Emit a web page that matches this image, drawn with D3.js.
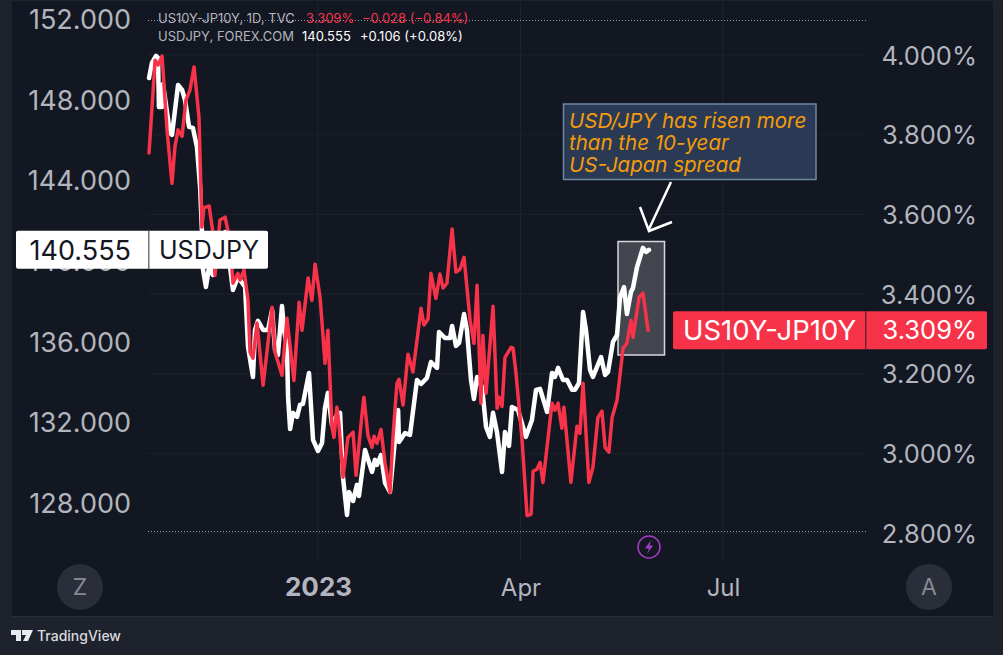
<!DOCTYPE html>
<html>
<head>
<meta charset="utf-8">
<script src="https://cdn.jsdelivr.net/npm/d3@7"></script>
<style>
  html, body { margin: 0; padding: 0; background: #1e222d; overflow: hidden; }
  svg { display: block; }
  text { font-family: Inter, "Noto Sans", sans-serif; }
  .axis .domain { display: none; }
  .axis text { fill: #b2b5be; }
</style>
</head>
<body>
<div id="chart"></div>
<script>
// days are counted from 2023-01-01
const usdjpyDays = [-75.1,-73.8,-72,-71.1,-70.7,-69.3,-68.9,-65.8,-64.9,-62.2,-60.4,-59.1,-57.3,-55.6,-53.8,-52.4,-51.6,-51.1,-49.8,-48.4,-46.7,-44,-41.3,-39.1,-37.8,-35.6,-32.4,-31.1,-28.9,-28,-26.7,-24.4,-22.2,-20.4,-19.1,-17.8,-16,-15.1,-13.8,-13.3,-12.4,-11.1,-9.3,-8,-6.7,-4,-2.2,0,1.8,3.1,4.4,6.2,8.4,9.8,11.1,12.9,13.8,15.6,17.3,18.2,20.9,24,25.3,26.2,28,29.8,32,34.2,35.6,36,38.7,40.9,44,45.8,48.4,50.2,52.9,53.8,56.4,58.7,59.6,61.3,62.7,64.9,66.2,68,69.3,70.7,72.9,74.7,76.4,77.8,79.6,81.8,83.1,84.9,86.2,88.9,92.4,95.1,96.9,98.7,101.8,104,105.3,106.7,108.9,110.7,112.9,114.2,116,117.8,119.1,120.9,122.2,125.8,127.6,128.9,131.1,132.9,134.2,136,137.3,139.1,140,141.8,144.4,145.8,147.1];
const usdjpyValues = [149.07,149.82,150.17,150.07,147.64,147.64,148.78,146.35,146.25,148.73,148.48,147.98,146.65,146.6,145.65,143.67,141.54,139.56,138.71,139.7,139.31,140.3,141.44,139.7,138.56,139.21,138.71,135.74,134.25,136.58,137.03,136.58,136.58,137.57,135.59,135.34,137.77,136.58,135.74,133.26,131.67,132.47,132.27,132.86,132.91,134.45,131.13,130.58,130.98,132.71,133.46,131.87,132.37,132.47,129.29,127.41,128.55,128.1,128.9,128.35,130.63,129.54,130.14,129.89,130.38,129,128.55,131.13,132.61,131.03,131.47,131.38,134.1,133.9,134.2,134.99,134.7,136.48,136.18,136.18,136.78,135.79,135.94,137.37,136.58,134.1,133.16,134.25,133.75,131.77,131.28,132.47,131.47,129.54,131.52,130.83,132.76,132.61,131.28,132.12,133.61,133.66,132.52,134.45,134.25,134.7,134.1,134.1,133.61,133.61,133.95,137.47,136.58,134.6,134.25,135.24,134.35,134.5,135.99,136.33,138.17,138.71,137.37,138.46,138.66,139.7,140.65,140.45,140.555];

const spreadDays = [-75.1,-72.4,-71.1,-69.3,-67.1,-64.9,-63.6,-62.2,-60.4,-58.7,-56.9,-55.1,-52.9,-51.6,-50.7,-48.4,-46.7,-45.8,-43.6,-41.3,-39.1,-37.8,-35.6,-34.7,-32.9,-31.1,-30.2,-28.9,-27.1,-24.4,-20.4,-19.1,-16,-13.8,-10.7,-8.4,-7.1,-4.4,-2.7,-1.3,0.9,1.8,3.1,4.4,6.2,7.1,8.4,9.3,11.1,13.3,15.6,16.9,19.6,20.4,22.2,24,24.9,26.2,28,29.8,32,33.3,35.1,36,37.8,40,42.2,45.8,47.1,48.9,50.2,52.4,54.2,55.6,57.3,59.6,61.3,63.1,64.9,67.6,69.3,70.7,72.4,73.3,74.7,77.8,79.6,80.4,81.8,83.1,85.8,86.7,88,90.7,92.9,94.7,95.6,97.3,98.7,100,104,105.3,106.7,108.4,109.3,112.4,115.1,116.4,117.8,120.4,122.2,124.4,126.2,127.6,129.3,130.7,132.9,135.6,137.3,139.1,140,142.7,144.4,146.7];
const spreadValues = [3.754,3.987,3.975,3.997,3.812,3.678,3.769,3.812,3.796,3.887,3.912,3.97,3.844,3.568,3.616,3.621,3.555,3.447,3.585,3.593,3.535,3.427,3.452,3.435,3.46,3.384,3.254,3.239,3.327,3.171,3.367,3.254,3.196,3.339,3.183,3.379,3.309,3.44,3.384,3.475,3.392,3.327,3.226,3.309,3.065,3.04,3.116,3.075,2.94,3.04,3.053,2.945,3.101,3.141,3.045,3.015,3.043,3.025,3.06,2.975,2.902,3.04,3.176,3.186,3.121,3.249,3.204,3.364,3.322,3.337,3.452,3.389,3.45,3.415,3.427,3.563,3.455,3.462,3.492,3.334,3.276,3.422,3.126,3.296,3.151,3.369,3.113,3.141,3.118,3.241,3.266,3.264,3.201,3.033,2.844,2.847,2.955,2.96,2.977,2.927,3.126,3.108,3.126,3.063,3.116,2.927,3.068,3.05,3.176,2.927,2.965,3.09,3.106,3.015,3.003,3.09,3.133,3.264,3.276,3.334,3.291,3.392,3.402,3.309];

const usdjpyTicks = [128, 132, 136, 140, 144, 148, 152];
const spreadTicks = [2.8, 3.0, 3.2, 3.4, 3.6, 3.8, 4.0];
const timeTicks = [0, 90, 180];
const timeLabels = ["2023", "Apr", "Jul"];
const noteLines = ["USD/JPY has risen more", "than the 10-year", "US-Japan spread"];

const WHITE = "#ffffff", RED = "#f7334a", GREY = "#b2b5be";
const width = 1003, height = 655;

const svg = d3.select("#chart").append("svg")
    .attr("width", width)
    .attr("height", height);

// panel
svg.append("rect")
    .attr("x", 12).attr("y", 1)
    .attr("width", 981).attr("height", 615)
    .attr("fill", "#131722");
svg.append("line")
    .attr("x1", 12).attr("x2", 993).attr("y1", 616.5).attr("y2", 616.5)
    .attr("stroke", "#2a2e39");

// scales
const x = d3.scaleLinear().domain([0, 180]).range([318, 723]);
const yUsd = d3.scaleLinear().domain([128, 152]).range([503, 19]);
const ySpread = d3.scaleLinear().domain([2.8, 4]).range([533, 55]);

// grid
svg.append("g")
    .selectAll("line")
    .data(spreadTicks)
    .join("line")
    .attr("x1", 148).attr("x2", 866)
    .attr("y1", d => ySpread(d)).attr("y2", d => ySpread(d))
    .attr("stroke", "#1e222d");
svg.append("g")
    .selectAll("line")
    .data(timeTicks)
    .join("line")
    .attr("x1", d => x(d)).attr("x2", d => x(d))
    .attr("y1", 1).attr("y2", 560)
    .attr("stroke", "#1e222d");

// dotted top and bottom of the price range
svg.append("g")
    .selectAll("line")
    .data([20.5, 531.5])
    .join("line")
    .attr("x1", 148).attr("x2", 866)
    .attr("y1", d => d).attr("y2", d => d)
    .attr("stroke", "#9598a1")
    .attr("stroke-dasharray", "1 2");

// axes
const usdAxis = svg.append("g")
    .attr("class", "axis")
    .attr("transform", "translate(131,1)")
    .call(d3.axisLeft(yUsd).tickValues(usdjpyTicks).tickSize(0).tickPadding(0)
        .tickFormat(d3.format(".3f")));
usdAxis.selectAll("text").style("font-size", "27px");
const spreadAxis = svg.append("g")
    .attr("class", "axis")
    .attr("transform", "translate(977,1)")
    .call(d3.axisLeft(ySpread).tickValues(spreadTicks).tickSize(0).tickPadding(0)
        .tickFormat(d => d3.format(".3f")(d) + "%"));
spreadAxis.selectAll("text").style("font-size", "25.5px");
const timeAxis = svg.append("g")
    .attr("class", "axis")
    .attr("transform", "translate(0,587)")
    .call(d3.axisBottom(x).tickValues(timeTicks).tickSize(0).tickPadding(0)
        .tickFormat((d, i) => timeLabels[i]));
timeAxis.selectAll("text")
    .attr("y", 0)
    .attr("dy", "0.36em")
    .style("font-size", d => d === 0 ? "26px" : "24px")
    .style("font-weight", d => d === 0 ? 700 : 400);

// highlight behind the last weeks
svg.append("rect")
    .attr("x", 618).attr("y", 241.5)
    .attr("width", 46.5).attr("height", 113.5)
    .attr("fill", "#43464f")
    .attr("stroke", "#d8d9dc")
    .attr("stroke-width", 1.5);

// series
const usdLine = d3.line()
    .x(d => x(d[0]))
    .y(d => yUsd(d[1]));
const spreadLine = d3.line()
    .x(d => x(d[0]))
    .y(d => ySpread(d[1]));

svg.append("path")
    .datum(d3.zip(usdjpyDays, usdjpyValues))
    .attr("d", usdLine)
    .attr("fill", "none")
    .attr("stroke", WHITE)
    .attr("stroke-width", 4.5)
    .attr("stroke-linejoin", "round")
    .attr("stroke-linecap", "round");
svg.append("path")
    .datum(d3.zip(spreadDays, spreadValues))
    .attr("d", spreadLine)
    .attr("fill", "none")
    .attr("stroke", RED)
    .attr("stroke-width", 3.5)
    .attr("stroke-linejoin", "round")
    .attr("stroke-linecap", "round");

// legend
function legendText(px, py, str, fill) {
    svg.append("text")
        .attr("x", px).attr("y", py)
        .attr("fill", fill)
        .style("font-size", "13px")
        .text(str);
}
legendText(158, 23, "US10Y-JP10Y, 1D, TVC", GREY);
legendText(306, 23, "3.309%", RED);
legendText(362, 23, "\u22120.028 (\u22120.84%)", RED);
legendText(158, 41, "USDJPY, FOREX.COM", GREY);
legendText(302, 41, "140.555", WHITE);
legendText(360, 41, "+0.106 (+0.08%)", WHITE);

// last value labels
function valueLabel(bx, cy, w, divider, fill, fg, name, value, nameX, valueX, nameSize, valueSize) {
    svg.append("rect")
        .attr("x", bx).attr("y", cy - 19)
        .attr("width", w).attr("height", 38)
        .attr("rx", 2)
        .attr("fill", fill);
    svg.append("rect")
        .attr("x", divider).attr("y", cy - 19)
        .attr("width", 1.5).attr("height", 38)
        .attr("fill", "#131722")
        .attr("opacity", 0.6);
    svg.append("text")
        .attr("x", nameX).attr("y", cy).attr("dy", "0.36em")
        .attr("fill", fg)
        .style("font-size", nameSize + "px")
        .text(name);
    svg.append("text")
        .attr("x", valueX).attr("y", cy).attr("dy", "0.36em")
        .attr("text-anchor", "end")
        .attr("fill", fg)
        .style("font-size", valueSize + "px")
        .text(value);
}
valueLabel(16, yUsd(140.555), 252, 148, WHITE, "#131722", "USDJPY", "140.555", 159, 131, 25, 27);
valueLabel(673, ySpread(3.309), 314, 865, RED, WHITE, "US10Y-JP10Y", "3.309%", 683, 977, 27.5, 25.5);

// annotation
svg.append("rect")
    .attr("x", 563.5).attr("y", 104)
    .attr("width", 252.5).attr("height", 75.5)
    .attr("fill", "#2a3a55")
    .attr("stroke", "#6d87a3")
    .attr("stroke-width", 1.5);
svg.append("g")
    .selectAll("text")
    .data(noteLines)
    .join("text")
    .attr("x", 569)
    .attr("y", (d, i) => 128 + i * 22)
    .attr("fill", "#f59c0a")
    .style("font-size", "20.5px")
    .style("font-style", "italic")
    .text(d => d);
svg.append("path")
    .attr("d", "M671,182L649,229M640,207L649,231L672,222")
    .attr("fill", "none")
    .attr("stroke", WHITE)
    .attr("stroke-width", 2.5);

// zoom and auto buttons
[["Z", 80], ["A", 929]].forEach(([label, cx]) => {
    svg.append("circle")
        .attr("cx", cx).attr("cy", 587).attr("r", 23)
        .attr("fill", "#2a2e39");
    svg.append("text")
        .attr("x", cx).attr("y", 587).attr("dy", "0.36em")
        .attr("text-anchor", "middle")
        .attr("fill", "#868993")
        .style("font-size", "23px")
        .text(label);
});

// event marker
svg.append("circle")
    .attr("cx", 649).attr("cy", 547).attr("r", 11)
    .attr("fill", "none")
    .attr("stroke", "#a33bc4")
    .attr("stroke-width", 1.5);
svg.append("path")
    .attr("d", "M651,540L645,548.5H649L647,554L653,545.5H649.5Z")
    .attr("fill", "#a33bc4");

// logo
svg.append("path")
    .attr("d", "M11,630H21V641H16V635H11ZM22,630H33L28,641H23L26,635H22Z")
    .attr("fill", "#e8e9ec");
svg.append("text")
    .attr("x", 37).attr("y", 641)
    .attr("fill", "#d8d9dc")
    .style("font-size", "14px")
    .style("font-weight", 500)
    .text("TradingView");
</script>
</body>
</html>
